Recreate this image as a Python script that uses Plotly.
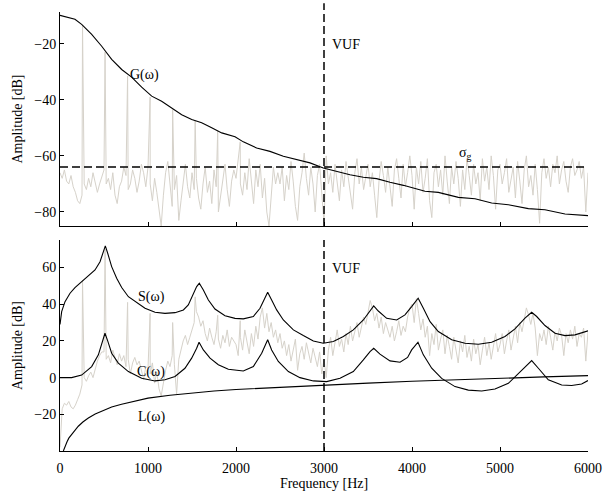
import plotly.graph_objects as go

# frequency grid of the measured spectrum (Hz)
freq_grid = list(range(0, 6001, 25))

# noisy glottal spectrum (top panel), dB
noise_top = [
    -66, -68, -65, -69, -70, -67, -71, -73, -76, -77, -74, -70, -72, -68, -71, -66, -69, -73, -70, -67,
    -65, -70, -68, -72, -66, -74, -77, -71, -69, -64, -67, -72, -70, -65, -68, -73, -69, -63, -66, -71,
    -64, -70, -76, -68, -73, -80, -85, -74, -66, -62, -70, -78, -72, -67, -83, -76, -69, -63, -71, -75,
    -66, -72, -68, -75, -79, -70, -64, -73, -69, -77, -65, -71, -80, -74, -67, -63, -72, -78, -69, -65,
    -68, -62, -70, -74, -66, -72, -61, -69, -77, -65, -71, -63, -75, -68, -80, -85, -73, -64, -70, -66,
    -70, -64, -76, -67, -72, -62, -69, -78, -83, -71, -66, -59, -68, -74, -64, -70, -80, -67, -63, -72,
    -84, -60, -70, -66, -73, -63, -69, -76, -65, -71, -62, -68, -74, -79, -66, -61, -70, -64, -72, -67,
    -63, -71, -66, -74, -82, -69, -62, -67, -73, -64, -70, -78, -65, -61, -68, -75, -63, -71, -66, -60,
    -67, -79, -64, -70, -62, -73, -68, -61, -76, -82, -66, -63, -71, -65, -74, -60, -69, -77, -64, -70,
    -62, -68, -78, -65, -72, -61, -67, -74, -63, -70, -66, -76, -61, -69, -64, -72, -60, -67, -79, -65,
    -63, -70, -66, -61, -73, -68, -64, -75, -62, -69, -77, -65, -60, -71, -67, -74, -63, -72, -84, -66,
    -61, -68, -64, -71, -63, -66, -60, -70, -65, -62, -69, -73, -64, -61, -67, -65, -62, -68, -64, -80, -66,
]

# noisy speech spectrum (bottom panel), dB
noise_bottom = [
    -38, -17, -14, -15, -13, -16, -17, -15, -12, -9, -4, 0, -2, 1, 3, 0, 5, 9, 12, 14,
    14, 10, 12, 8, 15, 11, 7, 13, 9, 12, 6, 10, 2, 8, 11, 7, 9, 4, -1, 6,
    5, 2, 8, -3, 3, -6, -10, -2, 4, 9, 6, 12, 7, -9, 10, 16, 20, 23, 18, 22,
    26, 30, 36, 33, 28, 31, 24, 20, 27, 22, 18, 25, 21, 16, 23, 19, 26, 17, 22, 20,
    18, 12, 22, 15, 26, 19, 13, 24, 17, 28, 21, 33, 38, 27, 35, 25, 30, 22, 26, 19,
    24, 16, 20, 12, 18, 9, 15, 21, 4, 13, 17, 10, 19, 14, 8, 16, 11, 6, 14, 2,
    10, 0, 15, 22, 12, 19, 26, 17, 21, 14, 24, 18, 28, 20, 25, 30, 22, 27, 33, 29,
    36, 42, 38, 31, 35, 27, 33, 24, 30, 26, 22, 28, 20, 25, 31, 23, 28, 25, 33, 38,
    40, 30, 43, 35, 26, 32, 22, 28, 12, 24, 18, 29, 15, 21, 26, 13, 23, 17, 10, 22,
    16, 8, 20, 14, 23, 11, 17, 9, 21, 13, 18, 7, 15, 22, 12, 19, 10, 16, 24, 14,
    18, 24, 13, 20, 26, 15, 22, 28, 19, 30, 25, 32, 38, 34, 29, 35, 27, 12, 24, 20,
    26, 18, 28, 22, 15, 25, 20, 27, 23, 12, 24, 19, 26, 21, 28, 17, 24, 22, 27, 9, 25,
]

# harmonic peaks (fundamental ~256 Hz)
harm_freq = [256, 512, 768, 1024, 1280, 1536, 1792, 2048]
harm_top = [-13.5, -23, -31.5, -39, -43.5, -47.5, -51, -55]
harm_bottom = [53, 70, 41, 35, 30, 44, 34, 31]

# G(omega), glottal model
g_freq = [0, 170, 246, 360, 474, 587, 701, 814, 928, 1042, 1155, 1269, 1383, 1497, 1610, 1724,
          1838, 1989, 2083, 2235, 2386, 2538, 2689, 2841, 2992, 3144, 3295, 3447, 3598, 3750,
          3902, 4148, 4299, 4527, 4716, 4905, 5095, 5322, 5511, 5739, 6000]
g_db = [-9.9, -11.3, -13.1, -16.7, -20.9, -25.6, -29.2, -31.9, -35.5, -38.7, -40.5, -42.9, -45.3,
        -47.0, -48.2, -50.0, -51.8, -53.2, -55.0, -57.2, -58.4, -60.1, -61.3, -62.5, -64.3, -65.5,
        -66.7, -67.6, -68.1, -69.4, -70.5, -72.6, -73.0, -74.8, -75.3, -76.8, -77.4, -78.8, -79.2,
        -80.7, -81.3]

# S(omega), speech envelope
s_freq = [0, 19, 57, 114, 170, 246, 322, 398, 455, 492, 515, 542, 587, 644, 701, 777, 852, 966,
          1080, 1193, 1307, 1402, 1458, 1515, 1553, 1583, 1629, 1686, 1761, 1875, 1989, 2083, 2197,
          2273, 2330, 2360, 2405, 2462, 2538, 2652, 2765, 2879, 2992, 3106, 3220, 3333, 3447, 3523,
          3565, 3617, 3712, 3826, 3920, 3996, 4070, 4129, 4205, 4299, 4451, 4602, 4754, 4905, 5057,
          5170, 5284, 5360, 5417, 5511, 5625, 5739, 5852, 6000]
s_db = [29, 36, 41.4, 46, 49.1, 52.3, 55.1, 58.7, 63.2, 68.7, 71.8, 67.8, 60.5, 54.2, 49.1, 44.1,
        41.4, 37.8, 35.6, 35.0, 35.4, 36.9, 39.6, 45.1, 49.6, 51.4, 47.8, 42.3, 37.4, 33.7, 32.3,
        32.0, 33.3, 37.8, 43.6, 46.5, 42.3, 36.9, 31.4, 26.0, 22.9, 20.0, 18.7, 19.7, 22.4, 26.0,
        31.4, 36.3, 39.1, 36.3, 32.3, 31.4, 34.2, 38.7, 43.3, 37.8, 30.5, 25.1, 20.6, 18.7, 18.2,
        19.3, 22.4, 26.6, 32.4, 35.6, 33.3, 28.4, 24.2, 22.9, 23.3, 25.5]

# C(omega), vocal tract
c_freq = [0, 132, 246, 360, 436, 485, 511, 542, 587, 663, 777, 928, 1080, 1193, 1307, 1420, 1496,
          1553, 1580, 1629, 1705, 1799, 1913, 2083, 2197, 2292, 2360, 2405, 2481, 2595, 2727, 2879,
          3030, 3182, 3333, 3447, 3523, 3565, 3636, 3750, 3864, 3950, 3996, 4068, 4129, 4224, 4337,
          4489, 4640, 4792, 4943, 5095, 5208, 5303, 5360, 5436, 5549, 5701, 5814, 5928, 6000]
c_db = [0, 0, 1.4, 6.0, 12.4, 20.6, 24.2, 20.0, 13.3, 7.9, 3.3, -0.4, -1.8, -1.2, 0.6, 5.1, 10.6,
        16.0, 19.3, 15.1, 10.6, 7.0, 4.6, 3.6, 6.0, 13.3, 20.6, 15.1, 8.8, 3.3, 0, -1.8, -2.2,
        -0.4, 3.3, 9.7, 14.2, 16.0, 12.8, 9.1, 8.4, 11.0, 15.1, 19.3, 12.4, 5.1, -0.4, -4.9, -6.8,
        -7.3, -6.2, -3.1, 2.4, 7.0, 9.3, 5.1, -1.2, -4.0, -4.3, -3.5, -1.6]

# L(omega), lip radiation
l_freq = [38, 60, 80, 100, 132, 170, 208, 260, 322, 400, 500, 587, 700, 850, 1000, 1250, 1500,
          1750, 2000, 2500, 3000, 3500, 4000, 4500, 5000, 5500, 6000]
l_db = [-40, -37, -35, -33, -31, -28.5, -26.5, -24.2, -22, -19.8, -17.6, -16, -14.5, -12.7, -11.2,
        -9.6, -8.3, -7.3, -6.5, -5.2, -4, -3, -2, -1.1, -0.4, 0.4, 1.1]

sigma_g = -64
vuf = 3000

SERIF = "Liberation Serif"
GRAY = "#d6d2ca"


def with_spikes(grid, vals, sf, sv):
    pts = sorted(list(zip(grid, vals)) + list(zip(sf, sv)), key=lambda p: p[0])
    return [p[0] for p in pts], [p[1] for p in pts]


xt, yt = with_spikes(freq_grid, noise_top, harm_freq, harm_top)
xb, yb = with_spikes(freq_grid, noise_bottom, harm_freq, harm_bottom)

fig = go.Figure()

fig.add_trace(go.Scatter(x=xt, y=yt, mode="lines", line=dict(color=GRAY, width=1),
                         xaxis="x", yaxis="y"))
fig.add_trace(go.Scatter(x=g_freq, y=g_db, mode="lines", line=dict(color="black", width=1.1),
                         xaxis="x", yaxis="y"))

fig.add_trace(go.Scatter(x=xb, y=yb, mode="lines", line=dict(color=GRAY, width=1),
                         xaxis="x2", yaxis="y2"))
for fx, fy in [(s_freq, s_db), (c_freq, c_db), (l_freq, l_db)]:
    fig.add_trace(go.Scatter(x=fx, y=fy, mode="lines", line=dict(color="black", width=1.1),
                             xaxis="x2", yaxis="y2"))

dash = dict(color="black", width=1.5, dash="8px,4px")
top_dom = [0.5125, 1]
bot_dom = [0, 0.4806]
fig.add_shape(type="line", xref="x", yref="y", x0=0, x1=6000, y0=sigma_g, y1=sigma_g, line=dash)
fig.add_shape(type="line", xref="x", yref="paper", x0=vuf, x1=vuf, y0=top_dom[0], y1=1.02, line=dash)
fig.add_shape(type="line", xref="x2", yref="paper", x0=vuf, x1=vuf, y0=bot_dom[0], y1=bot_dom[1], line=dash)

lab = dict(showarrow=False, xanchor="left", yanchor="middle",
           font=dict(family=SERIF, size=14, color="black"))
fig.add_annotation(x=770, y=-31, xref="x", yref="y", text="G(ω)", **lab)
fig.add_annotation(x=3068, y=-20.3, xref="x", yref="y", text="VUF", **lab)
fig.add_annotation(x=4508, y=-59, xref="x", yref="y", text="σ<sub>g</sub>", **lab)
fig.add_annotation(x=860, y=44, xref="x2", yref="y2", text="S(ω)", **lab)
fig.add_annotation(x=852, y=3.3, xref="x2", yref="y2", text="C(ω)", **lab)
fig.add_annotation(x=860, y=-21.3, xref="x2", yref="y2", text="L(ω)", **lab)
fig.add_annotation(x=3068, y=59.6, xref="x2", yref="y2", text="VUF", **lab)

axis = dict(showline=True, linecolor="black", linewidth=1, ticks="inside", ticklen=4,
            tickcolor="black", showgrid=False, zeroline=False, automargin=False,
            tickfont=dict(family=SERIF, size=14, color="black"))
title_font = dict(family=SERIF, size=14, color="black")
xticks = [0, 1000, 2000, 3000, 4000, 5000, 6000]

fig.update_layout(
    width=603, height=495,
    margin=dict(l=60, r=15, t=12, b=44),
    paper_bgcolor="white", plot_bgcolor="white",
    font=dict(family=SERIF, size=14, color="black"),
    showlegend=False,
    xaxis=dict(axis, domain=[0, 1], anchor="y", range=[0, 6000], tickvals=xticks,
               showticklabels=False),
    yaxis=dict(axis, domain=top_dom, anchor="x", range=[-85, -8.7], tickvals=[-80, -60, -40, -20],
               title=dict(text="Amplitude [dB]", standoff=8, font=title_font)),
    xaxis2=dict(axis, domain=[0, 1], anchor="y2", range=[0, 6000], tickvals=xticks,
                ticklabelstandoff=4,
                title=dict(text="Frequency [Hz]", standoff=1, font=title_font)),
    yaxis2=dict(axis, domain=bot_dom, anchor="x2", range=[-40, 75], tickvals=[-20, 0, 20, 40, 60],
                title=dict(text="Amplitude [dB]", standoff=8, font=title_font)),
)

# the page body has a default 8px margin; drop it so the figure sits at the window origin
fig.write_html("out.html", config={"displayModeBar": False},
               post_script="document.body.style.margin = '0';")
